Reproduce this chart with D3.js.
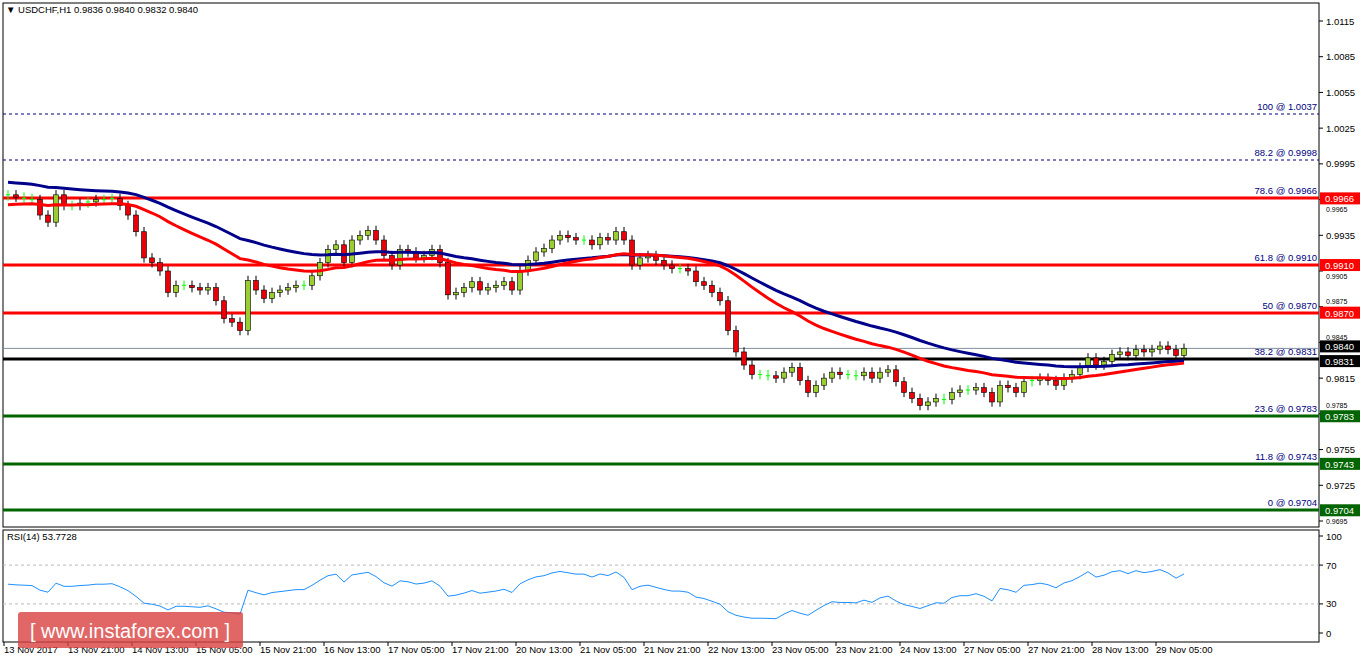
<!DOCTYPE html><html><head><meta charset="utf-8"><script src="https://cdn.jsdelivr.net/npm/d3@7"></script>
<style>body{margin:0;background:#fff}svg{font-family:"Liberation Sans",Arial,sans-serif}</style></head><body><svg id="c" width="1362" height="661"></svg>
<script>
const closes=[.9969,.9967,.9966,.9965,.9952,.9946,.9969,.9960,.9960,.9962,
.9963,.9965,.9965,.9966,.9960,.9952,.9938,.9916,.9912,.9905,
.9887,.9893,.9893,.9891,.9889,.9891,.9880,.9865,.9862,.9855,
.9897,.9889,.9882,.9887,.9889,.9891,.9893,.9893,.9901,.9912,
.9923,.9927,.9912,.9931,.9935,.9939,.9931,.9918,.9910,.9923,
.9921,.9916,.9918,.9923,.9912,.9885,.9887,.9891,.9896,.9889,
.9891,.9893,.9896,.9889,.9905,.9914,.9921,.9924,.9931,.9935,
.9933,.9931,.9931,.9927,.9933,.9931,.9938,.9931,.9910,.9916,
.9918,.9914,.9910,.9907,.9907,.9905,.9896,.9893,.9887,.9880,
.9855,.9837,.9826,.9818,.9818,.9817,.9815,.9820,.9824,.9813,
.9803,.9809,.9815,.9820,.9818,.9818,.9817,.9820,.9815,.9820,
.9822,.9812,.9803,.9798,.9792,.9795,.9798,.9797,.9803,.9805,
.9805,.9807,.9803,.9795,.9809,.9807,.9803,.9812,.9813,.9815,
.9813,.9809,.9815,.9818,.9824,.9832,.9826,.9829,.9835,.9837,
.9834,.9839,.9837,.9839,.9842,.9839,.9834,.9840];
const firstOpen=.9968;
const timeLabels=["13 Nov 2017","13 Nov 21:00","14 Nov 13:00","15 Nov 05:00","15 Nov 21:00","16 Nov 13:00","17 Nov 05:00","17 Nov 21:00","20 Nov 13:00","21 Nov 05:00","21 Nov 21:00","22 Nov 13:00","23 Nov 05:00","23 Nov 21:00","24 Nov 13:00","27 Nov 05:00","27 Nov 21:00","28 Nov 13:00","29 Nov 05:00"];
const priceTicks=[1.0115,1.0085,1.0055,1.0025,0.9995,0.9965,0.9935,0.9905,0.9875,0.9845,0.9815,0.9785,0.9755,0.9725,0.9695];
const fibLevels=[100,88.2,78.6,61.8,50,38.2,23.6,11.8,0];
const fibPrices=[1.0037,0.9998,0.9966,0.9910,0.9870,0.9831,0.9783,0.9743,0.9704];
const fibKinds=["dash","dash","red","red","red","black","green","green","green"];
const rsiLevels=[100,70,30,0];
const wick=0.0004;

const svg=d3.select("#c");
const L=3,R=1319,T=3,B=527,RT=530,RB=642;
const x=d3.scaleLinear().domain([0,closes.length]).range([L+1,L+1+closes.length*8]);
const y=d3.scaleLinear().domain([0.9695,1.0115]).range([521,21]);
const yr=d3.scaleLinear().domain([0,100]).range([633,536]);
const ohlc=closes.map((c,i)=>{const o=i?closes[i-1]:firstOpen;return{o,c,h:Math.max(o,c)+wick,l:Math.min(o,c)-wick};});

svg.append("rect").attr("x",L).attr("y",T).attr("width",R-L).attr("height",B-T).attr("fill","none").attr("stroke","#000");
svg.append("rect").attr("x",L).attr("y",RT).attr("width",R-L).attr("height",RB-RT).attr("fill","none").attr("stroke","#000");

const colMap={dash:"#000080",red:"#ff0000",black:"#000",green:"#006400"};
fibPrices.forEach((p,i)=>{
  const k=fibKinds[i],yy=Math.round(y(p));
  const ln=svg.append("line").attr("x1",L).attr("x2",R).attr("y1",yy).attr("y2",yy).attr("stroke",colMap[k]).attr("stroke-width",k=="dash"?1:3);
  if(k=="dash")ln.attr("stroke-dasharray","3,3");
  svg.append("text").attr("x",R-2).attr("y",yy-4).attr("text-anchor","end").attr("font-size",9.5).attr("fill","#000080").text(fibLevels[i]+" @ "+p.toFixed(4));
});
svg.append("line").attr("x1",L).attr("x2",R).attr("y1",y(0.9840)).attr("y2",y(0.9840)).attr("stroke","#8090a0");

const g=svg.append("g");
ohlc.forEach((d,i)=>{
  const cx=x(i)+4;
  const doji=Math.abs(d.c-d.o)<0.00015;
  const col=doji?"#00ff00":(d.c>d.o?"#9acd32":"#e8000b");
  g.append("line").attr("x1",cx).attr("x2",cx).attr("y1",y(d.h)).attr("y2",y(d.l)).attr("stroke",doji?"#00ff00":"#000");
  if(doji)g.append("line").attr("x1",cx-2).attr("x2",cx+2).attr("y1",y(d.c)).attr("y2",y(d.c)).attr("stroke","#00ff00");
  else g.append("rect").attr("x",cx-2.5).attr("width",5).attr("y",y(Math.max(d.o,d.c))).attr("height",Math.max(1,y(Math.min(d.o,d.c))-y(Math.max(d.o,d.c)))).attr("fill",col).attr("stroke","#000").attr("stroke-width",0.6);
});
function ema(n,seed){let e=seed;return closes.map(c=>(e=e+(c-e)*2/(n+1)));}
const red=ema(30,0.9960),blue=ema(45,0.9980);
const line=d3.line().x((d,i)=>x(i)+4).y(d=>y(d));
svg.append("path").attr("d",line(blue)).attr("fill","none").attr("stroke","#00008b").attr("stroke-width",3);
svg.append("path").attr("d",line(red)).attr("fill","none").attr("stroke","#ff0000").attr("stroke-width",3);

const boxFill={red:"#ff0000",black:"#000",green:"#006400"};
const tagPrices=fibPrices.filter((p,i)=>boxFill[fibKinds[i]]).concat([0.9840]);
priceTicks.forEach(p=>{
  svg.append("line").attr("x1",R).attr("x2",R+4).attr("y1",y(p)).attr("y2",y(p)).attr("stroke","#000");
  const t=tagPrices.find(t=>Math.abs(y(t)-y(p))<12);
  let yy=y(p)+3.5,fs=9.5;
  if(t!==undefined){fs=7;yy=y(p)<y(t)?y(Math.max(...tagPrices.filter(q=>Math.abs(y(q)-y(p))<16)))-8.5:y(t)+14;}
  svg.append("text").attr("x",R+7).attr("y",yy).attr("font-size",fs).text(p.toFixed(4));
});
function tag(p,f,dy){const yy=y(p)+dy;svg.append("rect").attr("x",R+1).attr("y",yy-6).attr("width",40).attr("height",12).attr("fill",f);
 svg.append("text").attr("x",R+6).attr("y",yy+4).attr("font-size",9.5).attr("fill","#fff").text(p.toFixed(4));}
fibPrices.forEach((p,i)=>{if(boxFill[fibKinds[i]])tag(p,boxFill[fibKinds[i]],p==0.9831?2:0);});
tag(0.9840,"#000",-2);

let ag=0,al=0;const n=14;const rsi=[];
closes.forEach((c,i)=>{const prev=i?closes[i-1]:firstOpen;const ch=c-prev;const gn=Math.max(ch,0),ls=Math.max(-ch,0);
 if(i==0){ag=0.0006;al=0.0006;}
 ag=(ag*(n-1)+gn)/n;al=(al*(n-1)+ls)/n;rsi.push(100-100/(1+ag/(al||1e-9)));});
[70,30].forEach(v=>svg.append("line").attr("x1",L).attr("x2",R).attr("y1",yr(v)).attr("y2",yr(v)).attr("stroke","#bbb").attr("stroke-dasharray","3,3"));
rsiLevels.forEach(v=>{svg.append("line").attr("x1",R).attr("x2",R+4).attr("y1",yr(v)).attr("y2",yr(v)).attr("stroke","#000");
 svg.append("text").attr("x",R+7).attr("y",yr(v)+3.5).attr("font-size",9.5).text(v);});
svg.append("path").attr("d",d3.line().x((d,i)=>x(i)+4).y(d=>yr(d))(rsi)).attr("fill","none").attr("stroke","#1e90ff").attr("stroke-width",1);
svg.append("text").attr("x",7).attr("y",540).attr("font-size",9.5).text("RSI(14) 53.7728");

timeLabels.forEach((t,k)=>{const xx=x(k*8);
 svg.append("line").attr("x1",xx).attr("x2",xx).attr("y1",RB).attr("y2",RB+4).attr("stroke","#000");
 svg.append("text").attr("x",xx).attr("y",653).attr("font-size",9.5).text(t);});

svg.append("text").attr("x",6).attr("y",13).attr("font-size",9.5).text("\u25BC USDCHF,H1  0.9836 0.9840 0.9832 0.9840");

svg.append("rect").attr("x",18).attr("y",612).attr("width",225).attr("height",36).attr("rx",3).attr("fill","#d94040").attr("opacity",0.8);
svg.append("text").attr("x",130).attr("y",638).attr("text-anchor","middle").attr("font-size",20).attr("fill","#fff").text("[ www.instaforex.com ]");
</script></body></html>
